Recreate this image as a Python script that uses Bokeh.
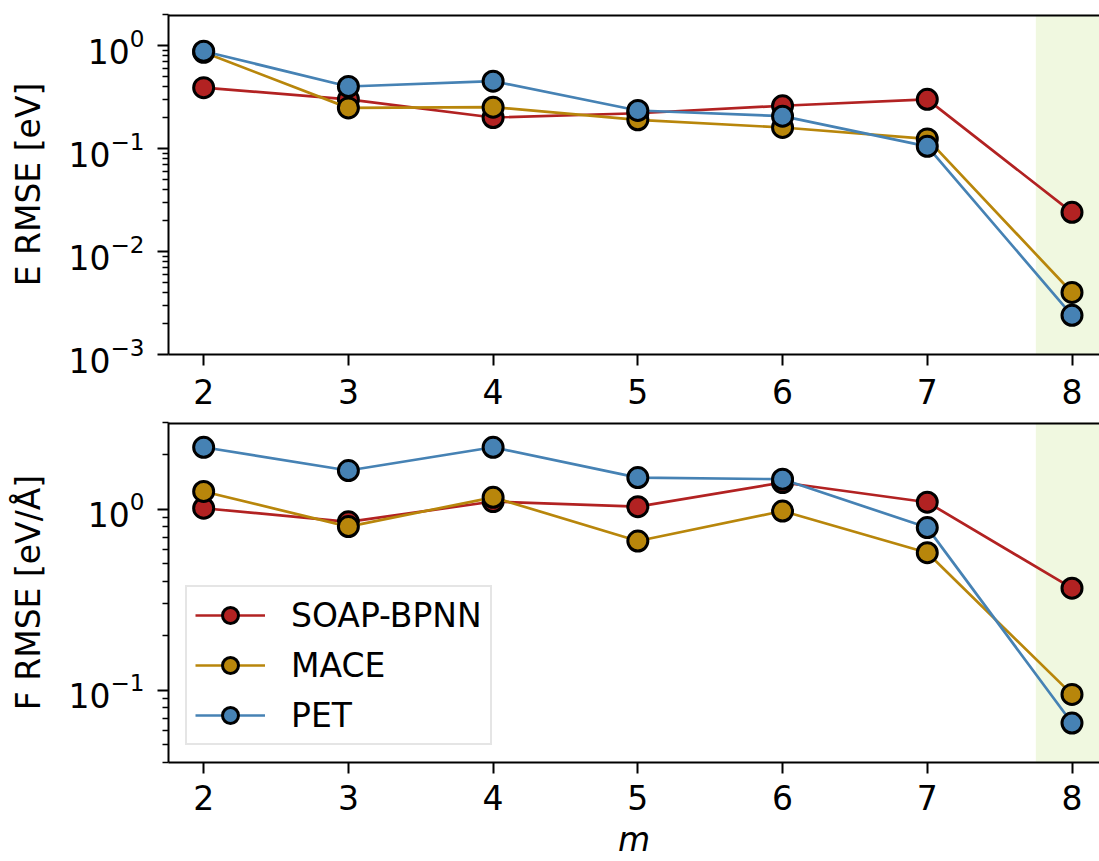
from bokeh.plotting import figure
from bokeh.layouts import column
from bokeh.models import (Range1d, FixedTicker, BoxAnnotation, Span,
                          Legend, LegendItem)
from bokeh.embed import file_html
from bokeh.resources import INLINE

# number of body terms m on the x axis
m_values = [2, 3, 4, 5, 6, 7, 8]

# energy RMSE [eV]
energy_soap_bpnn = [0.39, 0.30, 0.20, 0.22, 0.26, 0.30, 0.024]
energy_mace = [0.86, 0.248, 0.252, 0.19, 0.16, 0.124, 0.0040]
energy_pet = [0.88, 0.40, 0.45, 0.234, 0.206, 0.105, 0.0024]

# force RMSE [eV/Å]
force_soap_bpnn = [1.01, 0.85, 1.10, 1.03, 1.40, 1.09, 0.366]
force_mace = [1.25, 0.80, 1.16, 0.666, 0.975, 0.574, 0.095]
force_pet = [2.19, 1.63, 2.19, 1.49, 1.46, 0.79, 0.066]

series_names = ["SOAP-BPNN", "MACE", "PET"]
series_colors = ["#b22222", "#b8860b", "#4682b4"]

energy_major = [1e-3, 1e-2, 1e-1, 1e0]
force_major = [1e-1, 1e0]

FONT = "DejaVu Sans"
FS = "33px"
X_RANGE = (1.757, 8.19)
HIGHLIGHT_START = 7.75
FRAME_W = 931


def minor_ticks(lo, hi, exps):
    return [k * 10.0 ** e for e in exps for k in range(2, 10)
            if lo <= k * 10.0 ** e <= hi]


def make_panel(height, top, bottom, y_lo, y_hi, majors, exps, ylabel):
    p = figure(width=1099, height=height,
               x_range=Range1d(*X_RANGE), y_range=Range1d(y_lo, y_hi),
               y_axis_type="log", output_backend="svg",
               toolbar_location=None,
               min_border_left=1099 - FRAME_W, min_border_right=0,
               min_border_top=top, min_border_bottom=bottom)
    p.outline_line_color = None
    p.grid.visible = False
    p.background_fill_color = "white"
    p.border_fill_color = "white"

    # shaded region for the largest m
    p.add_layout(BoxAnnotation(left=HIGHLIGHT_START, fill_color="yellowgreen",
                               fill_alpha=0.15, line_color=None,
                               level="underlay"))
    # top spine
    p.add_layout(Span(location=y_hi, dimension="width", line_color="black",
                      line_width=4, level="overlay"))

    xa = p.below[0]
    xa.ticker = FixedTicker(ticks=m_values)
    ya = p.left[0]
    ya.ticker = FixedTicker(ticks=majors,
                            minor_ticks=minor_ticks(y_lo, y_hi, exps))
    ya.axis_label = ylabel

    for ax in (xa, ya):
        ax.axis_line_width = 2
        ax.axis_line_color = "black"
        ax.major_tick_line_width = 2
        ax.major_tick_line_color = "black"
        ax.minor_tick_line_width = 1.5
        ax.minor_tick_line_color = "black" if ax is ya else None
        ax.major_tick_out = 11
        ax.major_tick_in = 0
        ax.minor_tick_out = 6
        ax.minor_tick_in = 0
        ax.major_label_text_font = FONT
        ax.major_label_text_font_size = FS
        ax.major_label_text_color = "black"
        ax.axis_label_text_font = FONT
        ax.axis_label_text_font_size = FS
        ax.axis_label_text_font_style = "normal"
        ax.axis_label_text_color = "black"
    xa.major_label_standoff = 13
    ya.major_label_standoff = 13
    ya.axis_label_standoff = 17
    return p, xa


def draw_series(p, values_list):
    renderers = []
    for vals, color in zip(values_list, series_colors):
        ln = p.line(m_values, vals, line_color=color, line_width=2.7)
        sc = p.scatter(m_values, vals, size=20, fill_color=color,
                       line_color="black", line_width=3)
        renderers.append([ln, sc])
    return renderers


p1, x1 = make_panel(413, 14, 59, 1e-3, 2.0, energy_major, [-3, -2, -1, 0],
                    "E RMSE [eV]")
draw_series(p1, [energy_soap_bpnn, energy_mace, energy_pet])

p2, x2 = make_panel(448, 9, 99, 0.04, 3.0, force_major, [-2, -1, 0],
                    "F RMSE [eV/Å]")
rs = draw_series(p2, [force_soap_bpnn, force_mace, force_pet])
x2.axis_label = "m"
x2.axis_label_text_font_style = "italic"
x2.major_label_standoff = 11
x2.axis_label_standoff = 7

legend = Legend(
    items=[LegendItem(label=name, renderers=r)
           for name, r in zip(series_names, rs)],
    location="bottom_left", margin=17, padding=8, spacing=10,
    glyph_width=70, glyph_height=40, label_height=40, label_standoff=26,
    label_text_font=FONT, label_text_font_size=FS, label_text_color="black",
    border_line_color="#cccccc", border_line_width=2,
    background_fill_color="white", background_fill_alpha=0.8,
)
p2.add_layout(legend)

layout = column(p1, p2, spacing=0)
open("out.html", "w").write(file_html(layout, INLINE))
